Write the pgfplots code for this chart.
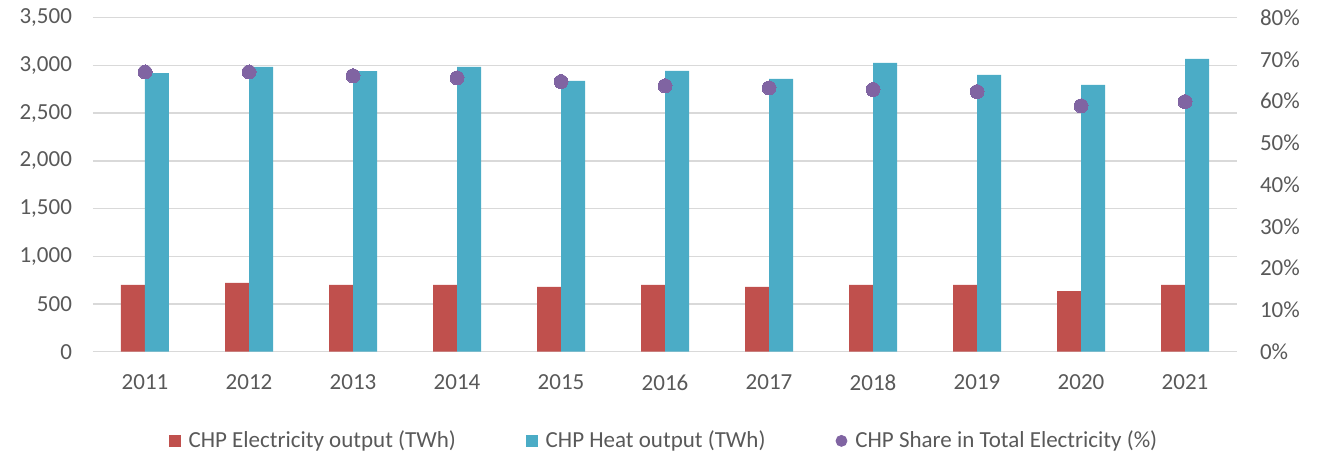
\documentclass[border=0pt]{standalone}
\usepackage{pgfplots}
\pgfplotsset{compat=1.18}
\usepackage{fontspec}
\setmainfont{Carlito}
\definecolor{chpred}{HTML}{C0504D}
\definecolor{chpcyan}{HTML}{4BACC6}
\definecolor{chppurple}{HTML}{8064A2}
\definecolor{txtgrey}{HTML}{595959}
\definecolor{gridgrey}{HTML}{D9D9D9}
\begin{document}
\begin{tikzpicture}
\pgfplotsset{
  common/.style={
    scale only axis, width=572pt, height=167pt,
    at={(46.5pt,52.65pt)}, anchor=south west,
    xmin=-0.5, xmax=10.5,
    font=\fontsize{11.5}{13}\selectfont\color{txtgrey},
    /pgf/number format/assume math mode=true,
    major tick length=0pt,
    axis line style={draw=none},
    tick style={draw=none},
  }
}
\begin{axis}[common,
  ybar=0pt, bar width=12pt,
  ymin=0, ymax=3500, ytick={0,500,...,3500},
  ymajorgrids, grid style={gridgrey, line width=0.75pt},
  /pgf/number format/1000 sep={,},
  xtick={0,...,10},
  xticklabels={2011,2012,2013,2014,2015,2016,2017,2018,2019,2020,2021},
  xticklabel style={yshift=-8pt},
  yticklabel style={xshift=-7pt},
  axis x line*=bottom, axis y line*=left,
]
\addplot[fill=chpred, draw=none] coordinates {
 (0,700) (1,720) (2,700) (3,700) (4,680) (5,700) (6,680) (7,700) (8,700) (9,635) (10,700)};
\addplot[fill=chpcyan, draw=none] coordinates {
 (0,2920) (1,2985) (2,2940) (3,2986) (4,2837) (5,2942) (6,2858) (7,3026) (8,2900) (9,2795) (10,3068)};
\end{axis}
\begin{axis}[common,
  ymin=0, ymax=80, ytick={0,10,...,80},
  axis y line*=right, axis x line=none,
  yticklabel={\pgfmathprintnumber{\tick}\%},
  yticklabel style={xshift=8pt},
  legend columns=3,
  legend style={draw=none, fill=none, at={(0.5,-0.267)}, anchor=center,
    font=\fontsize{11.5}{13}\selectfont\color{txtgrey},
    /tikz/every odd column/.append style={column sep=2pt},
    /tikz/every even column/.append style={column sep=33pt}},
]
\addlegendimage{legend image code/.code={\fill[chpred] (0pt,-2.75pt) rectangle (5.5pt,2.75pt);}}
\addlegendentry{CHP Electricity output (TWh)}
\addlegendimage{legend image code/.code={\fill[chpcyan] (0pt,-2.75pt) rectangle (5.5pt,2.75pt);}}
\addlegendentry{CHP Heat output (TWh)}
\addplot[only marks, mark=*, mark size=3.5pt, color=chppurple, mark options={fill=chppurple, draw=chppurple, line width=0pt},
  legend image code/.code={\fill[chppurple] (2.75pt,0pt) circle (2.75pt);}] coordinates {
 (0,67.0) (1,67.0) (2,66.1) (3,65.6) (4,64.7) (5,63.7) (6,63.2) (7,62.8) (8,62.3) (9,58.9) (10,59.9)};
\addlegendentry{CHP Share in Total Electricity (\%)}
\end{axis}
\pgfresetboundingbox
\path (0,0) rectangle (659pt,228.5pt);
\end{tikzpicture}
\end{document}
